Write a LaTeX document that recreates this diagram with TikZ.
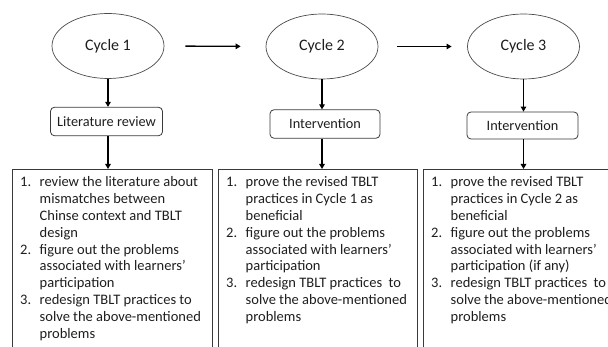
\documentclass[tikz,border=0pt]{standalone}
\usepackage{fontspec}
\setmainfont{Carlito}
\usetikzlibrary{arrows.meta,shapes.geometric}
\definecolor{ink}{HTML}{1E1E1E}
\definecolor{edge}{HTML}{3A3A3A}
\definecolor{ring}{HTML}{4A4A4A}
% one numbered item list, lines broken by hand
\newcommand{\itemrow}[2]{\makebox[19.5pt][l]{#1}#2\\}
\newcommand{\controw}[1]{\hspace*{19.5pt}#1\\}
\begin{document}
\begin{tikzpicture}[x=1pt,y=-1pt,
  cyclenode/.style={draw=ring, line width=0.7pt, ellipse, inner sep=0pt,
    minimum width=112pt, minimum height=65pt, text=ink,
    font=\fontsize{16}{19}\selectfont},
  stagebox/.style={draw=edge, line width=0.8pt, rounded corners=4pt, inner sep=0pt,
    minimum height=28.5pt, text=ink, font=\fontsize{14.3}{17}\selectfont},
  panel/.style={draw=edge, line width=0.8pt, anchor=north west, inner sep=0pt,
    minimum height=200pt},
  listtext/.style={anchor=north west, inner sep=0pt, xshift=8pt, yshift=-7.7pt,
    text=ink, align=left, font=\fontsize{14.5}{16.8}\selectfont},
  flow/.style={-{Triangle[length=5pt,width=5.5pt]}, line width=1.3pt, draw=black}]
\useasboundingbox (0,0) rectangle (608,347);
\clip (0,0) rectangle (608,347);

% cycles
\node[cyclenode] (c1) at (108,46) {Cycle 1};
\node[cyclenode] (c2) at (322,46.5) {Cycle 2};
\node[cyclenode] (c3) at (523.5,46.5) {Cycle 3};

% stages
\node[stagebox, minimum width=112pt] (s1) at (106.5,121.5) {Literature review};
\node[stagebox, minimum width=110pt] (s2) at (325,124) {Intervention};
\node[stagebox, minimum width=111pt, minimum height=27pt] (s3) at (522.5,125.5) {Intervention};

% panels
\node[panel, minimum width=200pt] (p1) at (12,169) {};
\node[panel, minimum width=199pt] (p2) at (218,169) {};
\node[panel, minimum width=220pt] (p3) at (423,169) {};

\node[listtext] (t1) at (p1.north west) {%
\itemrow{1.}{review the literature about}
\controw{mismatches between}
\controw{Chinse context and TBLT}
\controw{design}
\itemrow{2.}{figure out the problems}
\controw{associated with learners’}
\controw{participation}
\itemrow{3.}{redesign TBLT practices to}
\controw{solve the above-mentioned}
\controw{problems}};

\node[listtext] (t2) at (p2.north west) {%
\itemrow{1.}{prove the revised TBLT}
\controw{practices in Cycle 1 as}
\controw{beneficial}
\itemrow{2.}{figure out the problems}
\controw{associated with learners’}
\controw{participation}
\itemrow{3.}{redesign TBLT practices\ \ to}
\controw{solve the above-mentioned}
\controw{problems}};

\node[listtext] (t3) at (p3.north west) {%
\itemrow{1.}{prove the revised TBLT}
\controw{practices in Cycle 2 as}
\controw{beneficial}
\itemrow{2.}{figure out the problems}
\controw{associated with learners’}
\controw{participation (if any)}
\itemrow{3.}{redesign TBLT practices\ \ to}
\controw{solve the above-mentioned}
\controw{problems}};

% connectors
\draw[flow, shorten <=21pt, shorten >=25pt] (c1.east) -- (c2.west);
\draw[flow, shorten <=19pt, shorten >=15.5pt] (c2.east) -- (c3.west);
\foreach \c/\s/\p in {c1/s1/p1, c2/s2/p2, c3/s3/p3}{
  \draw[flow] (\c.south) -- (\c.south |- \s.north);
  \draw[flow] (\c.south |- \s.south) -- (\c.south |- \p.north);
}
\end{tikzpicture}
\end{document}
